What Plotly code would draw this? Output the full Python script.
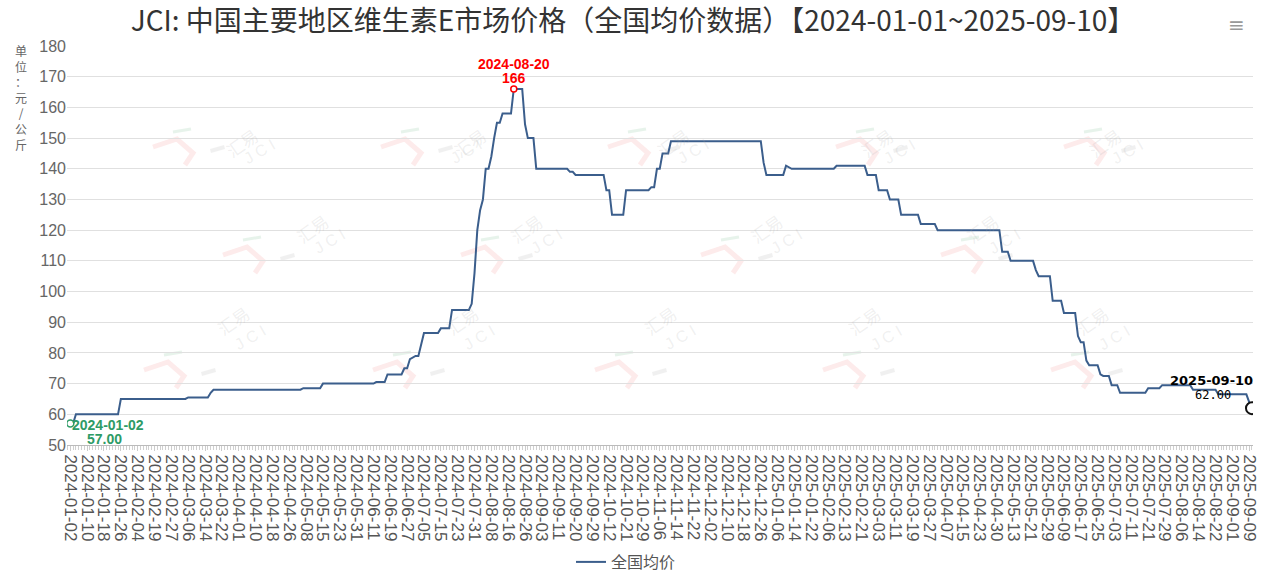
import plotly.graph_objects as go

# ---------------- data ----------------
tick_labels = [
    "2024-01-02", "2024-01-10", "2024-01-18", "2024-01-26", "2024-02-04", "2024-02-19",
    "2024-02-27", "2024-03-06", "2024-03-14", "2024-03-22", "2024-04-01", "2024-04-10",
    "2024-04-18", "2024-04-26", "2024-05-08", "2024-05-15", "2024-05-23", "2024-05-31",
    "2024-06-11", "2024-06-19", "2024-06-27", "2024-07-05", "2024-07-15", "2024-07-23",
    "2024-07-31", "2024-08-08", "2024-08-16", "2024-08-26", "2024-09-03", "2024-09-11",
    "2024-09-20", "2024-09-29", "2024-10-12", "2024-10-21", "2024-10-29", "2024-11-06",
    "2024-11-14", "2024-11-22", "2024-12-02", "2024-12-10", "2024-12-18", "2024-12-26",
    "2025-01-06", "2025-01-14", "2025-01-22", "2025-02-06", "2025-02-13", "2025-02-21",
    "2025-03-03", "2025-03-11", "2025-03-19", "2025-03-27", "2025-04-07", "2025-04-15",
    "2025-04-23", "2025-04-30", "2025-05-13", "2025-05-21", "2025-05-29", "2025-06-09",
    "2025-06-17", "2025-06-25", "2025-07-03", "2025-07-11", "2025-07-21", "2025-07-29",
    "2025-08-06", "2025-08-14", "2025-08-22", "2025-09-01", "2025-09-09",
]
label_step = 6          # one label every 6 trading days
n_points = 422          # trading days 2024-01-02 .. 2025-09-10

# price level changes: index of trading day where a new level starts, and the level
seg_start = [0, 2, 18, 42, 50, 51, 83, 90, 109, 113, 119, 121, 122, 123, 125, 126, 132, 136,
             143, 144, 145, 146, 147, 148, 150, 151, 152, 154, 158, 162, 163, 166, 178, 180,
             191, 193, 198, 207, 209, 211, 214, 247, 248, 255, 256, 257, 273, 284, 288, 292,
             296, 303, 309, 332, 335, 344, 345, 350, 354, 359, 360, 362, 363, 367, 368, 371,
             374, 384, 389, 400, 409, 420, 421]
seg_value = [57, 60, 65, 65.5, 67, 68, 68.5, 70, 70.5, 73, 75, 78, 78.5, 79, 83, 86.5, 88, 94,
             96, 106, 120, 126.5, 130, 140, 144, 150, 155, 158, 166, 154.5, 150, 140, 139, 138,
             133, 125, 133, 134, 140, 145, 149, 142, 138, 141, 140.5, 140, 141, 138, 133, 130,
             125, 122, 120, 113, 110, 107, 105, 97, 93, 85.5, 83.5, 77.5, 76, 73, 72.5, 69.5,
             67, 68.5, 69.5, 68, 66.5, 64, 62]

series_name = "全国均价"
max_label = ("2024-08-20", "166")
min_label = ("2024-01-02", "57.00")
last_label = ("2025-09-10", "62.00")

# expand level changes to one value per trading day
x_idx = list(range(n_points))
values = []
k = 0
for i in x_idx:
    while k + 1 < len(seg_start) and seg_start[k + 1] <= i:
        k += 1
    values.append(seg_value[k])

max_i = values.index(max(values))
min_i = values.index(min(values))
last_i = n_points - 1

# ---------------- layout helpers ----------------
W, H = 1266, 581
L, R, T, B = 67, 1253, 46, 445


def pxp(x):
    return (x - L) / (R - L)


def pyp(y):
    return (B - y) / (B - T)


fig = go.Figure()
fig.add_trace(go.Scatter(
    x=x_idx, y=values, mode="lines", name=series_name,
    line=dict(color="#3b5e8c", width=2),
    hoverinfo="y",
))
# mark points
fig.add_trace(go.Scatter(x=[max_i], y=[values[max_i]], mode="markers", showlegend=False,
                         marker=dict(size=6, color="white", line=dict(color="#ff0000", width=1.5))))
fig.add_trace(go.Scatter(x=[min_i], y=[values[min_i]], mode="markers", showlegend=False,
                         marker=dict(size=7, color="white", line=dict(color="#2e9b66", width=1.5))))
fig.add_trace(go.Scatter(x=[last_i], y=[values[last_i]], mode="markers", showlegend=False,
                         marker=dict(size=12, color="white", line=dict(color="#111111", width=2))))

ann = []
red_font = dict(family="Liberation Sans, Arial", size=14, color="#ff0000")
ann.append(dict(x=max_i, y=values[max_i], xref="x", yref="y", text="<b>%s</b>" % max_label[0],
                showarrow=False, yshift=25, font=red_font))
ann.append(dict(x=max_i, y=values[max_i], xref="x", yref="y", text="<b>%s</b>" % max_label[1],
                showarrow=False, yshift=11, font=red_font))
green_font = dict(family="Liberation Sans, Arial", size=14, color="#2e9b66")
ann.append(dict(x=min_i, y=values[min_i], xref="x", yref="y", text="<b>%s</b>" % min_label[0],
                showarrow=False, xanchor="left", xshift=0, yshift=-1, font=green_font))
ann.append(dict(x=min_i, y=values[min_i], xref="x", yref="y", text="<b>%s</b>" % min_label[1],
                showarrow=False, xanchor="center", xshift=34, yshift=-15, font=green_font))
ann.append(dict(x=last_i, y=values[last_i], xref="x", yref="y", text="<b>%s</b>" % last_label[0],
                showarrow=False, xshift=-40, yshift=28,
                font=dict(family="DejaVu Sans", size=13, color="#000000")))
ann.append(dict(x=last_i, y=values[last_i], xref="x", yref="y", text=last_label[1],
                showarrow=False, xshift=-39, yshift=13,
                font=dict(family="DejaVu Sans Mono", size=12, color="#000000")))

# vertical y-axis unit title
unit_chars = ["单", "位", "：", "元", "/", "公", "斤"]
ann.append(dict(x=pxp(13), y=pyp(97), xref="paper", yref="paper", text="<br>".join(unit_chars),
                showarrow=False, yanchor="middle",
                font=dict(family="Noto Sans CJK SC", size=12, color="#666666")))

# toolbox icon
ann.append(dict(x=pxp(1247), y=pyp(11), xref="paper", yref="paper", text="≡", showarrow=False,
                font=dict(family="DejaVu Sans", size=20, color="#999999")))

# watermark logos
shapes = []
logo_centers = [(205, 137), (433, 137), (660, 137), (888, 137), (1116, 137),
                (275, 245), (513, 245), (753, 245), (993, 245),
                (196, 360), (425, 360), (647, 360), (875, 360), (1103, 360)]
for cx, cy in logo_centers:
    ann.append(dict(x=pxp(cx + 13), y=pyp(cy - 17), xref="paper", yref="paper", text="汇易",
                    showarrow=False, textangle=-35,
                    font=dict(family="Noto Sans CJK SC", size=17, color="rgba(170,170,170,0.18)")))
    ann.append(dict(x=pxp(cx + 33), y=pyp(cy - 4), xref="paper", yref="paper", text="J C I",
                    showarrow=False, textangle=-30,
                    font=dict(family="Liberation Sans", size=16, color="rgba(170,170,170,0.18)")))
    pts = [(-52, 10), (-28, 2), (-12, 16), (-20, 28)]
    path = "M " + " L ".join("%.5f,%.5f" % (pxp(cx + dx), pyp(cy + dy)) for dx, dy in pts)
    shapes.append(dict(type="path", xref="paper", yref="paper", path=path,
                       line=dict(color="rgba(240,90,90,0.12)", width=5), layer="below"))
    shapes.append(dict(type="line", xref="paper", yref="paper",
                       x0=pxp(cx - 32), y0=pyp(cy - 5), x1=pxp(cx - 14), y1=pyp(cy - 8),
                       line=dict(color="rgba(60,160,90,0.12)", width=3), layer="below"))
    para = [(5, 12), (19, 8), (20, 12), (6, 16)]
    path2 = "M " + " L ".join("%.5f,%.5f" % (pxp(cx + dx), pyp(cy + dy)) for dx, dy in para) + " Z"
    shapes.append(dict(type="path", xref="paper", yref="paper", path=path2,
                       fillcolor="rgba(150,150,150,0.14)", line=dict(width=0), layer="below"))

fig.update_layout(
    width=W, height=H,
    margin=dict(l=L, r=W - R, t=T, b=H - B, autoexpand=False),
    paper_bgcolor="white", plot_bgcolor="white",
    title=dict(text="JCI: 中国主要地区维生素E市场价格（全国均价数据）【2024-01-01~2025-09-10】",
               x=0.5, xanchor="center", y=1 - 21 / H, yanchor="middle",
               font=dict(family="Noto Sans CJK SC", size=28, color="#333333")),
    showlegend=True,
    legend=dict(orientation="h", x=pxp(626), xanchor="center", y=pyp(562), yanchor="middle",
                font=dict(family="Noto Sans CJK SC", size=16, color="#555555"),
                bgcolor="rgba(0,0,0,0)"),
    annotations=ann,
    shapes=shapes,
    hovermode="x",
)
fig.update_xaxes(
    range=[-1.18, 421.36], tickmode="array",
    tickvals=[i * label_step for i in range(len(tick_labels))], ticktext=tick_labels,
    tickangle=90, tickfont=dict(family="Liberation Sans, Arial", size=17, color="#555555"),
    ticks="outside", ticklen=5, tickcolor="#cccccc",
    minor=dict(tickmode="linear", tick0=0, dtick=1, ticks="outside", ticklen=4,
               tickcolor="#d0d0d0", showgrid=False),
    showline=True, linecolor="#bbbbbb", linewidth=1,
    showgrid=False, zeroline=False, automargin=False,
)
fig.update_yaxes(
    range=[50, 180], dtick=10, tick0=50,
    tickfont=dict(family="Liberation Sans, Arial", size=16, color="#666666"),
    showgrid=True, gridcolor="#e0e0e0", gridwidth=1,
    showline=False, zeroline=False, ticks="", automargin=False,
)

fig.write_html("out.html", config={"displayModeBar": False},
               post_script="document.body.style.margin='0';")
